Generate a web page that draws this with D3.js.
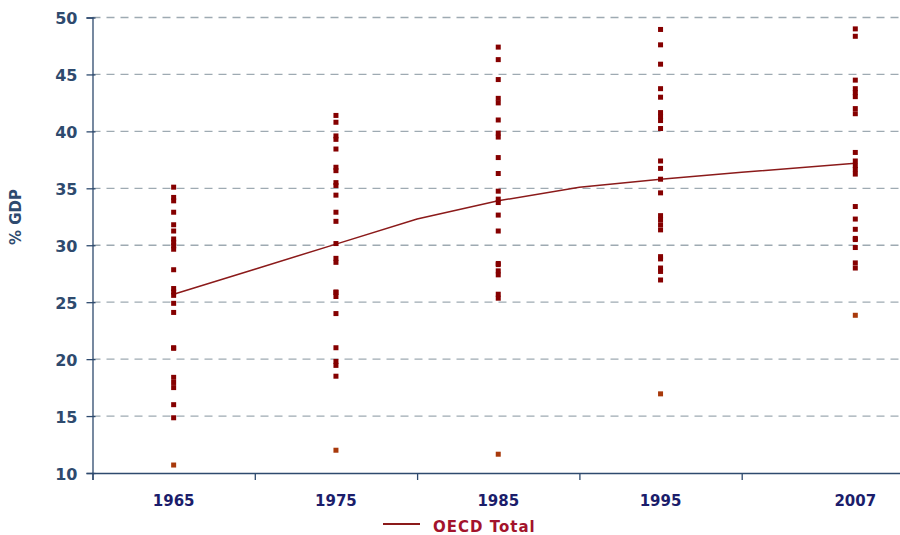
<!DOCTYPE html>
<html>
<head>
<meta charset="utf-8">
<script src="https://cdn.jsdelivr.net/npm/d3@7"></script>
<style>
  body { margin: 0; background: #fff; }
  svg { display: block; font-family: "DejaVu Sans", Verdana, sans-serif; }
</style>
</head>
<body>
<svg id="chart" width="900" height="535"></svg>
<script>
// country values (% GDP) for each year
const years = [1965, 1975, 1985, 1995, 2007];
const vals1965 = [35.1, 34.2, 33.9, 32.9, 31.8, 31.25, 30.55, 30.25, 29.95, 29.65, 27.85, 26.2, 25.9, 25.6,
  24.9, 24.1, 21.0, 20.95, 18.4, 17.95, 17.5, 16.0, 14.85, 10.7];
const vals1975 = [41.4, 40.8, 39.6, 39.3, 38.45, 36.85, 36.55, 35.5, 35.25, 34.4, 32.9, 32.1, 30.15,
  28.85, 28.5, 25.9, 25.85, 25.5, 24.0, 21.0, 19.8, 19.45, 18.5, 12.0];
const vals1985 = [47.4, 46.3, 44.55, 42.9, 42.5, 41.0, 39.85, 39.5, 37.7, 36.3, 34.75, 34.05, 33.75,
  32.65, 31.25, 28.4, 28.3, 27.75, 27.4, 25.7, 25.35, 11.65];
const vals1995 = [48.95, 47.6, 45.9, 43.75, 43.0, 41.65, 41.3, 40.95, 40.25, 37.4, 36.75, 35.8, 34.6,
  32.6, 32.25, 31.8, 31.35, 29.0, 28.8, 28.0, 27.7, 26.95, 16.95];
const vals2007 = [49.0, 48.35, 44.5, 43.75, 43.4, 43.05, 42.0, 41.55, 38.15, 37.4, 37.0, 36.65, 36.25,
  33.4, 32.3, 31.4, 30.6, 30.5, 29.8, 28.45, 28.0, 23.85];
const allVals = [vals1965, vals1975, vals1985, vals1995, vals2007];

// OECD total line
const totalYears = [1965, 1970, 1975, 1980, 1985, 1990, 1995, 2000, 2007];
const totalVals = [25.7, 27.9, 30.1, 32.3, 33.9, 35.1, 35.8, 36.4, 37.2];

const yTicks = [10, 15, 20, 25, 30, 35, 40, 45, 50];
const xTicks = [1960, 1970, 1980, 1990, 2000, 2010];

const svg = d3.select("#chart");
const axisColor = "#2e4a6e";

const x = d3.scaleLinear().domain([1960, 2010]).range([92.5, 904]);
const y = d3.scaleLinear().domain([10, 50]).range([473, 17.5]);

// gridlines
svg.append("g")
  .selectAll("line")
  .data(yTicks.slice(1))
  .join("line")
    .attr("x1", x(1960))
    .attr("x2", 900)
    .attr("y1", d => y(d))
    .attr("y2", d => y(d))
    .attr("stroke", "#9eaab2")
    .attr("stroke-width", 1.3)
    .attr("stroke-dasharray", "8,6");

// y axis
const yAxis = svg.append("g")
  .attr("transform", `translate(${x(1960)},0)`)
  .call(d3.axisLeft(y).tickValues(yTicks).tickSize(6).tickPadding(9));
yAxis.select(".domain").attr("stroke", axisColor).attr("stroke-width", 1.3);
yAxis.selectAll(".tick line").attr("stroke", axisColor).attr("stroke-width", 1.3)
  .attr("x1", 3);
yAxis.selectAll(".tick text")
  .attr("fill", axisColor)
  .attr("font-size", 16)
  .attr("font-weight", "bold")
  .attr("dy", "0.38em")
  .attr("font-family", "DejaVu Sans, Verdana, sans-serif");

svg.append("text")
  .attr("transform", `translate(21,217) rotate(-90)`)
  .attr("text-anchor", "middle")
  .attr("fill", axisColor)
  .attr("font-size", 15)
  .attr("font-weight", "bold")
  .text("% GDP");

// x axis
const xAxis = svg.append("g")
  .attr("transform", `translate(0,${y(10)})`)
  .call(d3.axisBottom(x).tickValues(xTicks).tickSize(7).tickFormat(""));
xAxis.select(".domain").attr("stroke", axisColor).attr("stroke-width", 1.3);
xAxis.selectAll(".tick line").attr("stroke", axisColor).attr("stroke-width", 1.3);

svg.append("g")
  .selectAll("text")
  .data(years)
  .join("text")
    .attr("x", d => x(d))
    .attr("y", 506)
    .attr("text-anchor", "middle")
    .attr("fill", "#1b1d6b")
    .attr("font-size", 15)
    .attr("font-weight", "bold")
    .text(d => d);

// OECD total line
const line = d3.line()
  .x((d, i) => x(totalYears[i]))
  .y(d => y(d));
svg.append("path")
  .datum(totalVals)
  .attr("d", line)
  .attr("fill", "none")
  .attr("stroke", "#8b1a1a")
  .attr("stroke-width", 1.5);

// country squares
const pts = [];
years.forEach((yr, i) => {
  const minV = d3.min(allVals[i]);
  allVals[i].forEach(v => pts.push({ year: yr, value: v, low: v === minV }));
});
const s = 5;
svg.append("g")
  .selectAll("rect")
  .data(pts)
  .join("rect")
    .attr("x", d => x(d.year) - s / 2)
    .attr("y", d => y(d.value) - s / 2)
    .attr("width", s)
    .attr("height", s)
    .attr("fill", d => d.low ? "#a8390b" : "#850000");

// legend
const lg = svg.append("g").attr("transform", "translate(383,524)");
lg.append("line")
  .attr("x1", 0).attr("x2", 37)
  .attr("y1", 0).attr("y2", 0)
  .attr("stroke", "#8b1a1a")
  .attr("stroke-width", 1.8);
lg.append("text")
  .attr("x", 50)
  .attr("y", 8)
  .attr("fill", "#a3132c")
  .attr("font-size", 15)
  .attr("letter-spacing", 1)
  .attr("font-weight", "bold")
  .text("OECD Total");
</script>
</body>
</html>
